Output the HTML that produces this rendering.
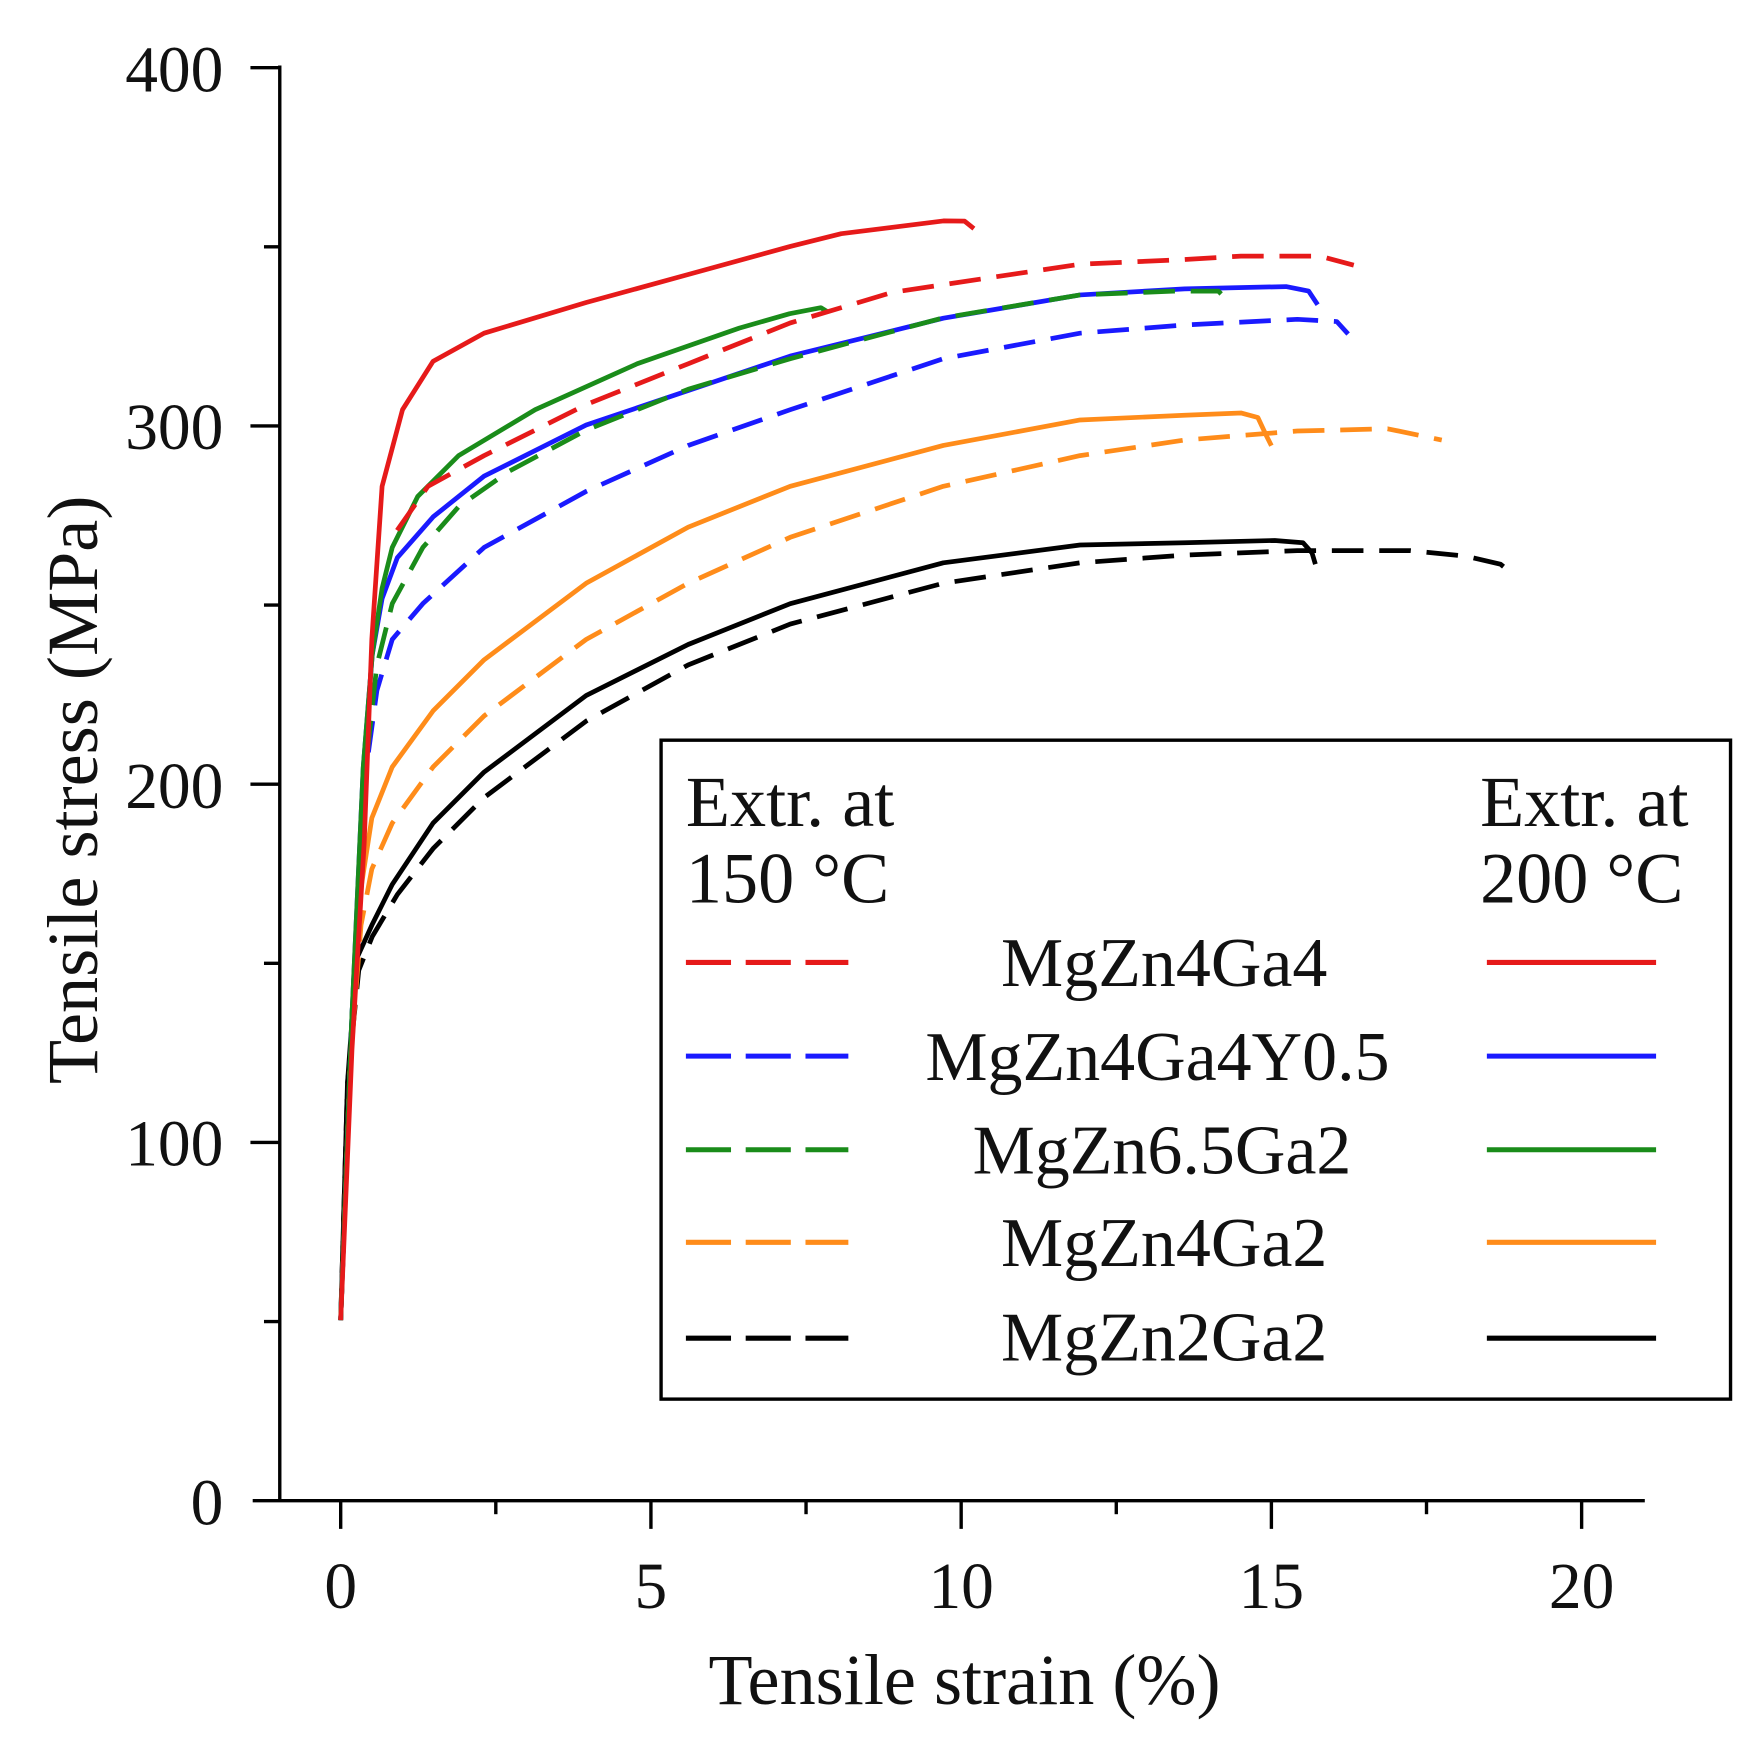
<!DOCTYPE html>
<html><head><meta charset="utf-8"><style>html,body{margin:0;padding:0;background:#fff}svg{display:block}</style></head>
<body>
<svg width="1761" height="1741" viewBox="0 0 1561 1543" preserveAspectRatio="none" xmlns="http://www.w3.org/2000/svg" font-family="'Liberation Serif', serif">
<rect width="1561" height="1543" fill="#fff"/>
<g stroke="#000" stroke-width="3" fill="none">
<line x1="248" y1="58" x2="248" y2="1331"/>
<line x1="224" y1="1330" x2="1458" y2="1330"/>
<line x1="222" y1="60" x2="248" y2="60"/>
<line x1="222" y1="377.5" x2="248" y2="377.5"/>
<line x1="222" y1="695" x2="248" y2="695"/>
<line x1="222" y1="1012.5" x2="248" y2="1012.5"/>
<line x1="234" y1="218.75" x2="248" y2="218.75"/>
<line x1="234" y1="536.25" x2="248" y2="536.25"/>
<line x1="234" y1="853.75" x2="248" y2="853.75"/>
<line x1="234" y1="1171.25" x2="248" y2="1171.25"/>
<line x1="302" y1="1330" x2="302" y2="1355"/>
<line x1="577" y1="1330" x2="577" y2="1355"/>
<line x1="852" y1="1330" x2="852" y2="1355"/>
<line x1="1127" y1="1330" x2="1127" y2="1355"/>
<line x1="1402" y1="1330" x2="1402" y2="1355"/>
<line x1="439.5" y1="1330" x2="439.5" y2="1342"/>
<line x1="714.5" y1="1330" x2="714.5" y2="1342"/>
<line x1="989.5" y1="1330" x2="989.5" y2="1342"/>
<line x1="1264.5" y1="1330" x2="1264.5" y2="1342"/>
</g>
<g font-size="58" fill="#111" text-anchor="end">
<text x="198" y="81">400</text>
<text x="198" y="398">300</text>
<text x="198" y="716">200</text>
<text x="198" y="1033">100</text>
<text x="198" y="1351">0</text>
</g>
<g font-size="58" fill="#111" text-anchor="middle">
<text x="302" y="1425">0</text>
<text x="577" y="1425">5</text>
<text x="852" y="1425">10</text>
<text x="1127" y="1425">15</text>
<text x="1402" y="1425">20</text>
<text x="855" y="1510" font-size="64">Tensile strain (%)</text>
<text transform="translate(86,700) rotate(-90)" font-size="64">Tensile stress (MPa)</text>
</g>
<g fill="none" stroke-width="4.2" stroke-linejoin="round" stroke-linecap="butt">
<path stroke="#000" stroke-dasharray="28,14" d="M302,1170 L308,960 L318,860 L330,830 L352.2,792.8 L383.9,752.1 L429.1,706.9 L519.6,639.1 L610,589.3 L700.5,553.1 L836.2,516.9 L957.4,498.8 L1050,492 L1150,488 L1250,488 L1300,493 L1330,500 L1340,508"/>
<path stroke="#000" d="M302,1170 L308,960 L316,850 L329.6,820 L347.7,783.8 L383.9,729.5 L429.1,684.3 L519.6,616.4 L610,571.2 L700.5,535 L836.2,498.8 L957.4,483 L1050,481 L1130,479 L1155,481 L1163,490 L1166,500"/>
<path stroke="#ff8c1a" stroke-dasharray="28,14" d="M302,1170 L310,950 L320,820 L329.6,770.2 L347.7,729.5 L383.9,679.7 L429.1,634.5 L519.6,566.7 L610,516.9 L700.5,476.2 L836.2,431 L957.4,403.8 L1050,390 L1150,382 L1230,380 L1278,390"/>
<path stroke="#ff8c1a" d="M302,1170 L310,950 L318,800 L329.6,725 L347.7,679.7 L383.9,630 L429.1,584.8 L519.6,516.9 L610,467.2 L700.5,431 L836.2,394.8 L957.4,372.2 L1050,368 L1100,366 L1115,370 L1122,385 L1127,395"/>
<path stroke="#1a1aff" stroke-dasharray="28,14" d="M302,1170 L312,900 L322,700 L334.1,611.9 L347.7,566.7 L374.8,535 L429.1,485.2 L519.6,435.5 L610,394.8 L700.5,363.1 L836.2,317.9 L957.4,295.3 L1050,288 L1150,283 L1185,285 L1195,296"/>
<path stroke="#1a1aff" d="M302,1170 L312,900 L322,680 L330,580 L338.7,530.5 L352.2,494.3 L383.9,458.1 L429.1,422 L519.6,376.7 L700.5,315.6 L836.2,282 L957.4,261.4 L1050,256 L1140,254 L1160,258 L1168,270"/>
<path stroke="#1a8c1a" stroke-dasharray="28,14" d="M302,1170 L312,900 L322,700 L334,590 L347.7,535 L374.8,485.2 L406.5,449.1 L451.7,417.4 L519.6,381.2 L610,345 L700.5,317.9 L836.2,281.7 L957.4,261.4 L1040,258 L1080,258 L1090,268"/>
<path stroke="#1a8c1a" d="M302,1170 L312,900 L322,680 L330,580 L338.7,521.4 L347.7,485.2 L370.3,440 L406.5,403.8 L474.4,363.1 L564.8,322.4 L655.3,290.8 L700,278 L727.6,272.7 L733,276"/>
<path stroke="#e61a1a" stroke-dasharray="28,14" d="M352,470 L379.4,431 L429.1,403.8 L519.6,358.6 L610,322.4 L700.5,286.2 L791,259.1 L881.4,245.5 L957.4,234.2 L1050,230 L1100,227 L1170,227 L1200,235"/>
<path stroke="#e61a1a" d="M302,1170 L312,930 L322.8,747.6 L329.6,566.7 L338.7,431 L356.8,363.1 L383.9,320.2 L429.1,295.3 L519.6,268.1 L610,243.3 L700.5,218.4 L745.7,207.1 L836.2,195.8 L855,196 L863.3,202.6"/>
</g>
<rect x="586" y="656" width="948" height="584" fill="none" stroke="#000" stroke-width="3"/>
<g font-size="64" fill="#111">
<text x="608" y="732">Extr. at</text>
<text x="608" y="800">150 °C</text>
<text x="1312" y="732">Extr. at</text>
<text x="1312" y="800">200 °C</text>
</g>
<g font-size="62" fill="#111" text-anchor="middle">
<text x="1032" y="874">MgZn4Ga4</text>
<text x="1026" y="957">MgZn4Ga4Y0.5</text>
<text x="1030" y="1040">MgZn6.5Ga2</text>
<text x="1032" y="1122">MgZn4Ga2</text>
<text x="1032" y="1206">MgZn2Ga2</text>
</g>
<g stroke-width="4.5" fill="none">
<line x1="608" y1="853" x2="752" y2="853" stroke="#e61a1a" stroke-dasharray="40,13"/>
<line x1="608" y1="936" x2="752" y2="936" stroke="#1a1aff" stroke-dasharray="40,13"/>
<line x1="608" y1="1019" x2="752" y2="1019" stroke="#1a8c1a" stroke-dasharray="40,13"/>
<line x1="608" y1="1101" x2="752" y2="1101" stroke="#ff8c1a" stroke-dasharray="40,13"/>
<line x1="608" y1="1186" x2="752" y2="1186" stroke="#000" stroke-dasharray="40,13"/>
<line x1="1318" y1="853" x2="1468" y2="853" stroke="#e61a1a"/>
<line x1="1318" y1="936" x2="1468" y2="936" stroke="#1a1aff"/>
<line x1="1318" y1="1019" x2="1468" y2="1019" stroke="#1a8c1a"/>
<line x1="1318" y1="1101" x2="1468" y2="1101" stroke="#ff8c1a"/>
<line x1="1318" y1="1186" x2="1468" y2="1186" stroke="#000"/>
</g>
</svg>
</body></html>
